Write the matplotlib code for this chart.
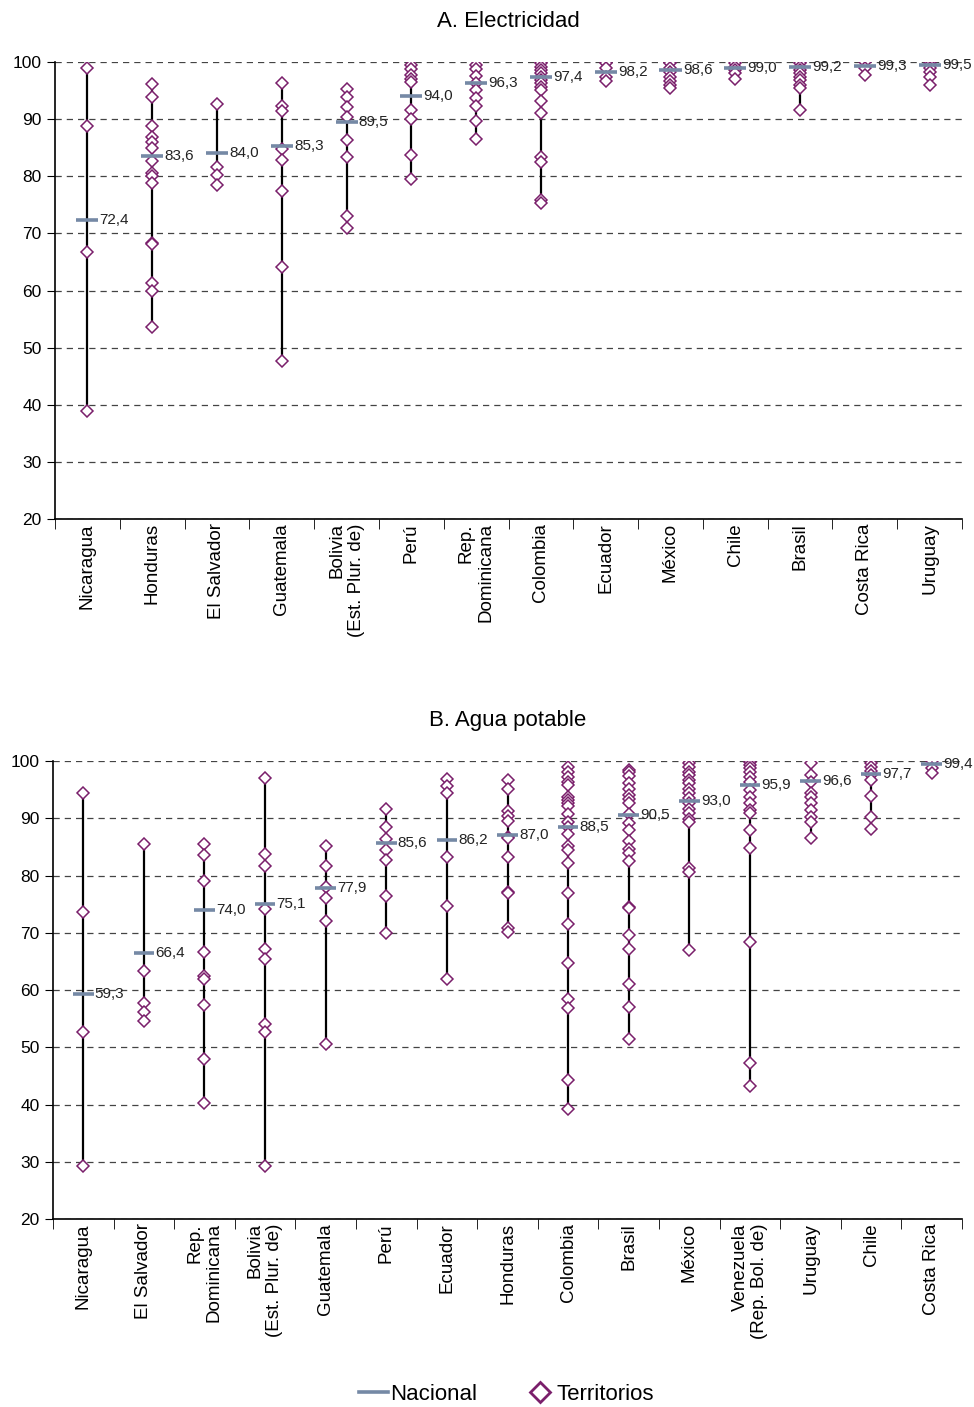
import matplotlib
matplotlib.use("Agg")
import matplotlib.pyplot as plt
from matplotlib.lines import Line2D

# A. Electricidad
elec_countries = ["Nicaragua", "Honduras", "El Salvador", "Guatemala",
                  "Bolivia\n(Est. Plur. de)", "Perú", "Rep.\nDominicana",
                  "Colombia", "Ecuador", "México", "Chile", "Brasil",
                  "Costa Rica", "Uruguay"]
elec_nacional = [72.4, 83.6, 84.0, 85.3, 89.5, 94.0, 96.3, 97.4, 98.2,
                 98.6, 99.0, 99.2, 99.3, 99.5]
elec_territorios = [
    [98.9, 88.8, 66.7, 38.9],
    [96.1, 93.9, 88.8, 86.8, 86.0, 84.9, 82.7, 80.6, 80.0, 78.9, 68.4, 68.2,
     61.4, 60.0, 53.6],
    [92.6, 81.7, 80.2, 78.5],
    [96.3, 92.3, 91.4, 84.8, 82.8, 77.4, 64.2, 47.6],
    [95.2, 93.9, 92.2, 90.4, 86.3, 83.4, 73.1, 71.0],
    [99.5, 98.7, 97.8, 97.0, 96.5, 91.6, 90.1, 83.8, 79.5],
    [99.5, 98.7, 97.5, 96.3, 95.1, 93.7, 92.3, 89.7, 86.5],
    [100.0, 99.8, 99.2, 98.6, 98.0, 97.4, 96.8, 96.3, 95.7, 95.1, 93.2, 91.0,
     83.4, 82.5, 75.8, 75.3],
    [99.8, 98.9, 97.4, 96.6],
    [100.0, 99.8, 98.9, 98.3, 97.4, 96.6, 96.0, 95.4],
    [99.8, 99.2, 98.6, 98.0, 97.1],
    [100.0, 99.8, 99.2, 98.6, 98.0, 97.4, 96.8, 96.0, 95.4, 91.6],
    [100.0, 98.9, 97.7],
    [99.9, 99.5, 98.9, 98.3, 97.4, 96.0],
]

# B. Agua potable
agua_countries = ["Nicaragua", "El Salvador", "Rep.\nDominicana",
                  "Bolivia\n(Est. Plur. de)", "Guatemala", "Perú", "Ecuador",
                  "Honduras", "Colombia", "Brasil", "México",
                  "Venezuela\n(Rep. Bol. de)", "Uruguay", "Chile", "Costa Rica"]
agua_nacional = [59.3, 66.4, 74.0, 75.1, 77.9, 85.6, 86.2, 87.0, 88.5, 90.5,
                 93.0, 95.9, 96.6, 97.7, 99.4]
agua_territorios = [
    [94.5, 73.7, 52.7, 29.3],
    [85.5, 63.3, 57.8, 56.1, 54.6],
    [85.5, 83.6, 79.0, 66.7, 62.4, 61.9, 57.4, 47.9, 40.3],
    [97.0, 83.8, 81.7, 74.1, 67.2, 65.4, 54.1, 52.6, 29.3],
    [85.2, 81.6, 78.0, 76.0, 72.1, 50.5],
    [91.7, 88.4, 86.4, 84.5, 82.7, 76.4, 69.9],
    [96.8, 95.6, 94.4, 83.2, 74.7, 62.0],
    [96.7, 95.2, 91.3, 90.4, 89.5, 86.8, 86.6, 83.3, 77.2, 77.0, 70.8, 70.2],
    [98.9, 98.0, 97.2, 96.3, 95.8, 93.8, 93.2, 92.7, 92.1, 90.7, 89.4, 88.4,
     87.2, 85.2, 84.5, 82.2, 76.9, 71.5, 64.8, 58.5, 56.8, 44.3, 39.3],
    [98.5, 98.0, 97.4, 96.1, 95.2, 94.1, 93.3, 92.7, 90.7, 89.1, 87.9, 86.1,
     84.6, 83.9, 82.6, 74.5, 74.4, 69.6, 67.2, 61.0, 57.0, 51.4],
    [99.6, 99.0, 98.1, 97.6, 96.7, 96.1, 95.2, 94.4, 93.5, 92.6, 91.7, 90.9,
     89.8, 89.4, 81.3, 80.7, 67.0],
    [99.9, 99.3, 98.7, 98.1, 97.3, 96.4, 94.9, 93.8, 92.6, 91.4, 90.9, 87.9,
     84.8, 68.4, 47.2, 43.3],
    [99.6, 97.6, 96.4, 94.4, 93.8, 92.6, 91.4, 90.3, 89.4, 86.5],
    [99.7, 98.9, 98.3, 97.6, 96.7, 93.9, 90.2, 88.1],
    [100.0, 98.7, 97.9],
]

NAC_COLOR = "#7589a5"
TER_COLOR = "#7a1f6b"


def fmt(v):
    return f"{v:.1f}".replace(".", ",")


def draw_panel(ax, countries, nacional, territorios, title):
    n = len(countries)
    xs = list(range(n))
    for x, nac, ter in zip(xs, nacional, territorios):
        ax.vlines(x, min(ter), max(ter), color="black", lw=1.6, zorder=2)
        ax.plot([x] * len(ter), ter, linestyle="none", marker="D",
                markersize=6.5, markerfacecolor="white",
                markeredgecolor=TER_COLOR, markeredgewidth=1.1, zorder=3)
        ax.hlines(nac, x - 0.17, x + 0.17, color=NAC_COLOR, lw=2.6, zorder=4)
        ax.text(x + 0.19, nac, fmt(nac), va="center", ha="left",
                fontsize=11, color="#222222", zorder=5)
    ax.set_xlim(-0.5, n - 0.5)
    ax.set_ylim(20, 100)
    ax.set_yticks(range(20, 101, 10))
    ax.yaxis.grid(True, linestyle=(0, (5, 4)), color="#444444", lw=0.9)
    ax.set_axisbelow(True)
    ax.set_xticks(xs)
    ax.set_xticklabels(countries, rotation=90, va="top", ha="center",
                       multialignment="right", fontsize=13.5)
    ax.set_xticks([i + 0.5 for i in range(-1, n)], minor=True)
    ax.tick_params(axis="x", which="major", length=0, pad=3)
    ax.tick_params(axis="x", which="minor", length=7, direction="out")
    ax.tick_params(axis="y", labelsize=12.5, length=6, direction="out")
    for s in ["top", "right"]:
        ax.spines[s].set_visible(False)
    ax.spines["left"].set_linewidth(1.2)
    ax.spines["bottom"].set_linewidth(1.2)
    ax.set_title(title, fontsize=16, pad=25)


plt.rcParams["font.family"] = ["Liberation Sans", "DejaVu Sans"]
fig = plt.figure(figsize=(9.74, 14.07), dpi=100)
ax1 = fig.add_axes([0.0565, 0.6311, 0.9312, 0.3248])
ax2 = fig.add_axes([0.0544, 0.1336, 0.9333, 0.3255])

draw_panel(ax1, elec_countries, elec_nacional, elec_territorios,
           "A. Electricidad")
draw_panel(ax2, agua_countries, agua_nacional, agua_territorios,
           "B. Agua potable")

handles = [Line2D([0], [0], color=NAC_COLOR, lw=2.6),
           Line2D([0], [0], linestyle="none", marker="D", markersize=10,
                  markerfacecolor="white", markeredgecolor=TER_COLOR,
                  markeredgewidth=2)]
fig.legend(handles, ["Nacional", "Territorios"], loc="center",
           bbox_to_anchor=(0.52, 0.009), ncol=2, frameon=False, fontsize=16,
           handlelength=1.3, handletextpad=0.1, columnspacing=2.2)

fig.savefig("out.png", dpi=100)
